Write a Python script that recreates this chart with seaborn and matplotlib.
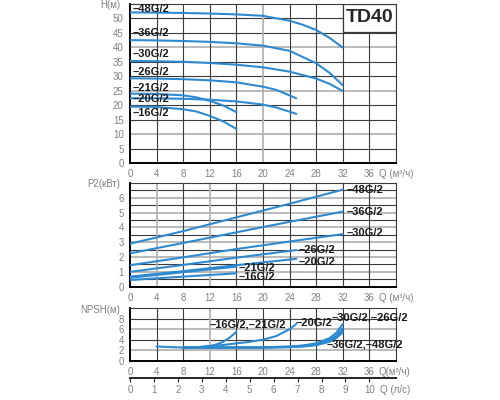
import numpy as np
import pandas as pd
import matplotlib
matplotlib.use("Agg")
import matplotlib.pyplot as plt
import seaborn as sns
from matplotlib.patches import Rectangle

sns.set_style("white")
plt.rcParams['font.family'] = ['Liberation Sans', 'DejaVu Sans']

BLUE = '#2e8ad0'
DARK = '#3a3a3a'
LIGHT = '#b4b4b4'
TICKC = '#808080'

# --- H(Q) curves (m vs m3/h)
q_h48 = [0, 4, 8, 12, 16, 20, 24, 26, 28, 30, 32]
h_48 = [52.1, 52.0, 51.9, 51.7, 51.4, 50.9, 49.2, 47.8, 46.0, 43.3, 39.9]
q_h36 = [0, 4, 8, 12, 16, 20, 24, 28, 30, 32]
h_36 = [42.5, 42.4, 42.2, 41.9, 41.4, 40.6, 38.8, 34.5, 31.2, 26.9]
q_h30 = [0, 4, 8, 12, 16, 20, 24, 28, 30, 32]
h_30 = [35.3, 35.2, 35.0, 34.6, 34.0, 33.1, 31.6, 29.2, 27.4, 24.9]
q_h26 = [0, 4, 8, 12, 16, 20, 22, 25]
h_26 = [29.3, 29.2, 29.0, 28.6, 27.9, 26.4, 25.3, 22.4]
q_h21 = [0, 4, 8, 10, 12, 14, 16]
h_21 = [24.0, 23.9, 23.4, 22.7, 21.5, 19.9, 17.6]
q_h20 = [0, 4, 8, 12, 16, 20, 22, 25]
h_20 = [22.4, 22.4, 22.2, 21.9, 21.3, 20.2, 19.2, 17.0]
q_h16 = [0, 4, 8, 10, 12, 14, 16]
h_16 = [19.5, 19.4, 18.6, 17.8, 16.3, 14.4, 11.8]

# --- P2(Q) curves (kW)
q_p32 = [0, 8, 16, 24, 32]
p_48 = [2.9, 3.75, 4.68, 5.6, 6.55]
p_36 = [2.25, 2.95, 3.67, 4.38, 5.07]
p_30 = [1.45, 1.98, 2.54, 3.05, 3.55]
q_p25 = [0, 8, 16, 25]
p_26 = [1.0, 1.47, 1.96, 2.47]
p_20 = [0.68, 1.05, 1.45, 1.88]
q_p16 = [0, 8, 16]
p_21 = [0.6, 0.98, 1.35]
p_16 = [0.45, 0.68, 0.9]

# --- NPSH(Q) curves (m)
q_n16 = [4, 6, 8, 10, 12, 13, 14, 15, 16]
n_16 = [2.7, 2.6, 2.5, 2.55, 2.8, 3.1, 3.6, 4.4, 5.5]
q_n20 = [8, 10, 12, 14, 16, 18, 20, 22, 24, 25]
n_20 = [2.5, 2.55, 2.75, 3.0, 3.3, 3.6, 4.0, 4.7, 6.0, 7.0]
q_n32 = [8, 12, 16, 20, 24, 26, 28, 30, 31, 32]
n_30 = [2.5, 2.5, 2.5, 2.55, 2.7, 2.9, 3.3, 4.3, 5.3, 7.0]
n_26 = [2.5, 2.5, 2.5, 2.55, 2.65, 2.85, 3.2, 4.0, 4.8, 6.2]
n_36 = [2.5, 2.5, 2.5, 2.5, 2.6, 2.75, 3.05, 3.8, 4.5, 5.8]
n_48 = [2.5, 2.5, 2.5, 2.5, 2.6, 2.7, 2.95, 3.6, 4.3, 5.4]

fig = plt.figure(figsize=(5, 4), dpi=100)
ax1 = fig.add_axes([0.26, 0.5925, 0.532, 0.3975])
ax2 = fig.add_axes([0.26, 0.2833, 0.532, 0.2592])
ax3 = fig.add_axes([0.26, 0.0983, 0.532, 0.131])


def style(ax, ylim, yticks, hgrid, light_h, light_v, minor=None):
    ax.set_xlim(0, 40)
    ax.set_ylim(*ylim)
    ax.set_xticks(range(0, 37, 4))
    ax.set_yticks(yticks)
    if minor is not None:
        ax.set_yticks(minor, minor=True)
    for y in hgrid:
        ax.axhline(y, color=LIGHT if y in light_h else DARK,
                   lw=1.3 if y in light_h else 0.8, zorder=0)
    for x in range(4, 40, 4):
        ax.axvline(x, color=LIGHT if x in light_v else DARK,
                   lw=1.3 if x in light_v else 0.8, zorder=0)
    for s in ['top', 'right']:
        ax.spines[s].set_color(DARK)
        ax.spines[s].set_linewidth(0.8)
    for s in ['left', 'bottom']:
        ax.spines[s].set_color('black')
        ax.spines[s].set_linewidth(1.4)
    ax.tick_params(axis='both', which='both', labelsize=7, labelcolor=TICKC,
                   length=3, width=0.8, color='black', pad=1.5)
    ax.tick_params(axis='y', which='minor', length=2)
    ax.set_xlabel('')
    ax.set_ylabel('')


def curve(ax, q, v):
    sns.lineplot(x=q, y=v, ax=ax, color=BLUE, lw=1.5, zorder=3)


def label(ax, x, y, s):
    ax.text(x, y, s, fontsize=8, fontweight='bold', color='#1a1a1a',
            va='center', ha='left', clip_on=False, zorder=5)


# Panel 1: H
for q, h in [(q_h48, h_48), (q_h36, h_36), (q_h30, h_30), (q_h26, h_26),
             (q_h21, h_21), (q_h20, h_20), (q_h16, h_16)]:
    curve(ax1, q, h)
style(ax1, (0, 55), range(0, 51, 5), range(5, 55, 5), {10, 25, 40}, {20})
for y, s in [(53.3, '–48G/2'), (44.8, '–36G/2'), (37.8, '–30G/2'),
             (31.6, '–26G/2'), (25.9, '–21G/2'), (22.0, '–20G/2'),
             (17.4, '–16G/2')]:
    label(ax1, 0.4, y, s)
ax1.add_patch(Rectangle((32, 45.3), 8, 9.7, facecolor='white',
                        edgecolor=DARK, lw=0.9, zorder=4))
ax1.text(36, 50.2, 'TD40', fontsize=14, fontweight='bold', ha='center',
         va='center', zorder=5)

# Panel 2: P2
for q, p in [(q_p32, p_48), (q_p32, p_36), (q_p32, p_30), (q_p25, p_26),
             (q_p25, p_20), (q_p16, p_21), (q_p16, p_16)]:
    curve(ax2, q, p)
style(ax2, (0, 7), range(0, 7), np.arange(0.5, 7, 0.5),
      {1.0, 2.0, 3.0, 4.0, 5.0, 6.0}, {4, 12},
      minor=np.arange(0.5, 7, 0.5))
for x, y, s in [(32.6, 6.52, '–48G/2'), (32.6, 5.06, '–36G/2'),
                (32.6, 3.6, '–30G/2'), (25.4, 2.47, '–26G/2'),
                (25.4, 1.69, '–20G/2'), (16.3, 1.24, '–21G/2'),
                (16.3, 0.63, '–16G/2')]:
    label(ax2, x, y, s)

# Panel 3: NPSH
for q, n in [(q_n16, n_16), (q_n20, n_20), (q_n32, n_30), (q_n32, n_26),
             (q_n32, n_36), (q_n32, n_48)]:
    curve(ax3, q, n)
style(ax3, (0, 10), range(0, 9, 2), range(2, 10, 2), {2, 6}, {12})
for x, y, s in [(12.0, 6.9, '–16G/2,–21G/2'), (24.9, 7.2, '–20G/2'),
                (30.3, 8.2, '–30G/2,–26G/2'), (29.6, 3.1, '–36G/2,–48G/2')]:
    label(ax3, x, y, s)

# second Q axis in l/s
sec = ax3.secondary_xaxis(-0.336, functions=(lambda q: q / 3.6,
                                              lambda l: l * 3.6))
sec.set_xticks(range(0, 11))
sec.spines['bottom'].set_linewidth(1.4)
sec.tick_params(labelsize=7, labelcolor=TICKC, length=3, width=0.8, pad=1.5)

# axis titles
for ax, txt in [(ax1, 'Q (м³/ч)'), (ax2, 'Q (м³/ч)'), (ax3, 'Q(м³/ч)')]:
    ax.annotate(txt, xy=(37.4, 0), xycoords=ax.get_xaxis_transform(),
                xytext=(0, -4.5), textcoords='offset points',
                fontsize=7, color=TICKC, ha='left', va='top')
ax3.annotate('Q (л/с)', xy=(37.6, -0.336), xycoords=ax3.get_xaxis_transform(),
             xytext=(0, -4.5), textcoords='offset points',
             fontsize=7, color=TICKC, ha='left', va='top')
for ax, txt in [(ax1, 'H(м)'), (ax2, 'P2(кВт)'), (ax3, 'NPSH(м)')]:
    ax.annotate(txt, xy=(0, 1), xycoords='axes fraction', xytext=(-7, -1),
                textcoords='offset points', fontsize=7, color=TICKC,
                ha='right', va='center')

fig.savefig('out.png', dpi=100)
